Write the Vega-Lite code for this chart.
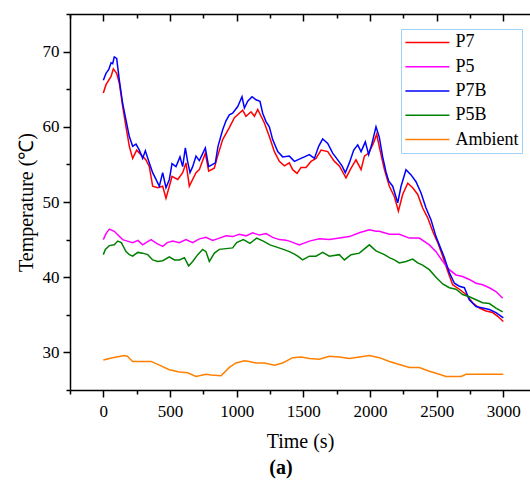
{
  "$schema": "https://vega.github.io/schema/vega-lite/v6.json",
  "autosize": {"type": "none"},
  "width": 460,
  "height": 376,
  "padding": {"left": 70, "top": 14, "right": 0, "bottom": 101},
  "background": "white",
  "config": {
    "view": {"stroke": null},
    "axis": {"domainColor": "black", "domainWidth": 1.5, "tickColor": "black", "tickWidth": 1.5, "grid": false, "labelFont": "Liberation Serif", "labelFontSize": 17, "labelColor": "black", "titleFont": "Liberation Serif", "titleFontSize": 20, "titleFontWeight": "normal", "titleColor": "black"}
  },
  "title": {"text": "(a)", "orient": "bottom", "anchor": "middle", "font": "Liberation Serif", "fontWeight": "bold", "fontSize": 20, "color": "black", "dx": -19, "offset": 7},
  "data": {"values": [
    {"s":"P7","t":0,"T":64.5},{"s":"P7","t":20,"T":65.6},{"s":"P7","t":58,"T":66.7},{"s":"P7","t":75,"T":67.7},{"s":"P7","t":100,"T":67.1},{"s":"P7","t":120,"T":65.8},{"s":"P7","t":145,"T":62.7},{"s":"P7","t":170,"T":60.0},{"s":"P7","t":195,"T":57.4},{"s":"P7","t":220,"T":55.8},{"s":"P7","t":250,"T":56.9},{"s":"P7","t":282,"T":56.3},{"s":"P7","t":320,"T":55.6},{"s":"P7","t":345,"T":54.7},{"s":"P7","t":370,"T":52.1},{"s":"P7","t":408,"T":51.9},{"s":"P7","t":445,"T":52.1},{"s":"P7","t":470,"T":50.5},{"s":"P7","t":495,"T":52.1},{"s":"P7","t":515,"T":53.4},{"s":"P7","t":558,"T":53.0},{"s":"P7","t":595,"T":53.9},{"s":"P7","t":620,"T":55.2},{"s":"P7","t":645,"T":52.1},{"s":"P7","t":670,"T":53.0},{"s":"P7","t":695,"T":53.9},{"s":"P7","t":720,"T":54.3},{"s":"P7","t":765,"T":56.5},{"s":"P7","t":790,"T":54.1},{"s":"P7","t":832,"T":54.5},{"s":"P7","t":857,"T":56.1},{"s":"P7","t":895,"T":58.3},{"s":"P7","t":945,"T":59.9},{"s":"P7","t":983,"T":61.2},{"s":"P7","t":1020,"T":61.8},{"s":"P7","t":1045,"T":62.2},{"s":"P7","t":1070,"T":61.4},{"s":"P7","t":1108,"T":62.0},{"s":"P7","t":1133,"T":61.4},{"s":"P7","t":1158,"T":62.3},{"s":"P7","t":1183,"T":61.4},{"s":"P7","t":1208,"T":60.5},{"s":"P7","t":1245,"T":58.7},{"s":"P7","t":1283,"T":56.7},{"s":"P7","t":1320,"T":55.4},{"s":"P7","t":1358,"T":54.8},{"s":"P7","t":1395,"T":55.2},{"s":"P7","t":1420,"T":54.3},{"s":"P7","t":1453,"T":53.8},{"s":"P7","t":1483,"T":54.6},{"s":"P7","t":1520,"T":54.6},{"s":"P7","t":1558,"T":55.4},{"s":"P7","t":1595,"T":55.8},{"s":"P7","t":1633,"T":56.9},{"s":"P7","t":1683,"T":56.7},{"s":"P7","t":1733,"T":55.4},{"s":"P7","t":1770,"T":54.8},{"s":"P7","t":1820,"T":53.2},{"s":"P7","t":1858,"T":54.5},{"s":"P7","t":1895,"T":55.6},{"s":"P7","t":1933,"T":54.3},{"s":"P7","t":1958,"T":56.1},{"s":"P7","t":1990,"T":56.5},{"s":"P7","t":2025,"T":57.8},{"s":"P7","t":2050,"T":59.0},{"s":"P7","t":2075,"T":56.9},{"s":"P7","t":2108,"T":54.3},{"s":"P7","t":2145,"T":52.1},{"s":"P7","t":2183,"T":50.7},{"s":"P7","t":2213,"T":48.8},{"s":"P7","t":2245,"T":51.0},{"s":"P7","t":2283,"T":52.5},{"s":"P7","t":2320,"T":51.9},{"s":"P7","t":2358,"T":51.0},{"s":"P7","t":2395,"T":49.2},{"s":"P7","t":2433,"T":47.9},{"s":"P7","t":2470,"T":46.1},{"s":"P7","t":2508,"T":44.6},{"s":"P7","t":2545,"T":42.8},{"s":"P7","t":2583,"T":40.8},{"s":"P7","t":2620,"T":39.0},{"s":"P7","t":2670,"T":38.4},{"s":"P7","t":2720,"T":37.7},{"s":"P7","t":2770,"T":36.6},{"s":"P7","t":2820,"T":35.9},{"s":"P7","t":2870,"T":35.5},{"s":"P7","t":2920,"T":35.3},{"s":"P7","t":2958,"T":34.8},{"s":"P7","t":3000,"T":34.1},
    {"s":"P5","t":0,"T":45.0},{"s":"P5","t":20,"T":45.8},{"s":"P5","t":45,"T":46.4},{"s":"P5","t":82,"T":46.1},{"s":"P5","t":110,"T":45.6},{"s":"P5","t":145,"T":45.0},{"s":"P5","t":180,"T":44.8},{"s":"P5","t":220,"T":44.6},{"s":"P5","t":260,"T":44.9},{"s":"P5","t":295,"T":44.3},{"s":"P5","t":330,"T":44.7},{"s":"P5","t":358,"T":45.0},{"s":"P5","t":400,"T":44.5},{"s":"P5","t":445,"T":44.1},{"s":"P5","t":480,"T":44.6},{"s":"P5","t":520,"T":44.8},{"s":"P5","t":570,"T":44.6},{"s":"P5","t":620,"T":45.0},{"s":"P5","t":670,"T":44.6},{"s":"P5","t":720,"T":45.1},{"s":"P5","t":770,"T":45.3},{"s":"P5","t":820,"T":44.9},{"s":"P5","t":870,"T":45.2},{"s":"P5","t":920,"T":45.5},{"s":"P5","t":970,"T":45.4},{"s":"P5","t":1020,"T":45.7},{"s":"P5","t":1070,"T":45.5},{"s":"P5","t":1120,"T":45.9},{"s":"P5","t":1170,"T":45.6},{"s":"P5","t":1220,"T":45.8},{"s":"P5","t":1270,"T":45.3},{"s":"P5","t":1320,"T":45.0},{"s":"P5","t":1370,"T":44.9},{"s":"P5","t":1395,"T":44.8},{"s":"P5","t":1470,"T":44.3},{"s":"P5","t":1545,"T":44.8},{"s":"P5","t":1620,"T":45.1},{"s":"P5","t":1695,"T":45.0},{"s":"P5","t":1770,"T":45.2},{"s":"P5","t":1845,"T":45.4},{"s":"P5","t":1920,"T":45.9},{"s":"P5","t":1995,"T":46.3},{"s":"P5","t":2045,"T":46.1},{"s":"P5","t":2070,"T":46.1},{"s":"P5","t":2145,"T":45.7},{"s":"P5","t":2220,"T":45.7},{"s":"P5","t":2295,"T":45.2},{"s":"P5","t":2370,"T":45.2},{"s":"P5","t":2445,"T":44.3},{"s":"P5","t":2495,"T":43.4},{"s":"P5","t":2545,"T":42.1},{"s":"P5","t":2595,"T":41.0},{"s":"P5","t":2645,"T":40.3},{"s":"P5","t":2695,"T":40.1},{"s":"P5","t":2745,"T":39.7},{"s":"P5","t":2795,"T":39.2},{"s":"P5","t":2845,"T":39.0},{"s":"P5","t":2895,"T":38.6},{"s":"P5","t":2945,"T":38.1},{"s":"P5","t":2995,"T":37.2},
    {"s":"P7B","t":0,"T":66.2},{"s":"P7B","t":20,"T":67.1},{"s":"P7B","t":40,"T":67.6},{"s":"P7B","t":58,"T":68.5},{"s":"P7B","t":70,"T":68.4},{"s":"P7B","t":82,"T":69.3},{"s":"P7B","t":100,"T":69.1},{"s":"P7B","t":120,"T":66.2},{"s":"P7B","t":145,"T":63.1},{"s":"P7B","t":170,"T":60.9},{"s":"P7B","t":195,"T":58.7},{"s":"P7B","t":220,"T":57.4},{"s":"P7B","t":245,"T":57.7},{"s":"P7B","t":270,"T":56.9},{"s":"P7B","t":295,"T":55.8},{"s":"P7B","t":315,"T":56.8},{"s":"P7B","t":345,"T":55.2},{"s":"P7B","t":370,"T":53.9},{"s":"P7B","t":395,"T":53.0},{"s":"P7B","t":420,"T":52.1},{"s":"P7B","t":445,"T":53.9},{"s":"P7B","t":470,"T":51.9},{"s":"P7B","t":495,"T":53.0},{"s":"P7B","t":515,"T":55.1},{"s":"P7B","t":545,"T":54.7},{"s":"P7B","t":575,"T":56.0},{"s":"P7B","t":595,"T":54.7},{"s":"P7B","t":615,"T":57.2},{"s":"P7B","t":632,"T":55.4},{"s":"P7B","t":650,"T":53.9},{"s":"P7B","t":670,"T":54.7},{"s":"P7B","t":695,"T":56.1},{"s":"P7B","t":720,"T":55.5},{"s":"P7B","t":765,"T":57.2},{"s":"P7B","t":790,"T":54.7},{"s":"P7B","t":820,"T":55.0},{"s":"P7B","t":840,"T":55.2},{"s":"P7B","t":860,"T":57.4},{"s":"P7B","t":895,"T":59.6},{"s":"P7B","t":920,"T":60.8},{"s":"P7B","t":945,"T":61.6},{"s":"P7B","t":970,"T":61.8},{"s":"P7B","t":1008,"T":62.7},{"s":"P7B","t":1040,"T":64.0},{"s":"P7B","t":1058,"T":62.5},{"s":"P7B","t":1083,"T":63.4},{"s":"P7B","t":1115,"T":64.0},{"s":"P7B","t":1145,"T":63.6},{"s":"P7B","t":1175,"T":63.4},{"s":"P7B","t":1195,"T":61.8},{"s":"P7B","t":1220,"T":60.7},{"s":"P7B","t":1245,"T":60.0},{"s":"P7B","t":1270,"T":58.3},{"s":"P7B","t":1308,"T":56.7},{"s":"P7B","t":1345,"T":56.0},{"s":"P7B","t":1395,"T":56.1},{"s":"P7B","t":1433,"T":55.4},{"s":"P7B","t":1470,"T":55.7},{"s":"P7B","t":1508,"T":56.0},{"s":"P7B","t":1545,"T":56.3},{"s":"P7B","t":1583,"T":55.8},{"s":"P7B","t":1615,"T":57.4},{"s":"P7B","t":1645,"T":58.4},{"s":"P7B","t":1683,"T":57.8},{"s":"P7B","t":1720,"T":56.5},{"s":"P7B","t":1758,"T":55.6},{"s":"P7B","t":1790,"T":54.8},{"s":"P7B","t":1815,"T":53.9},{"s":"P7B","t":1845,"T":55.2},{"s":"P7B","t":1878,"T":56.9},{"s":"P7B","t":1908,"T":57.6},{"s":"P7B","t":1933,"T":56.7},{"s":"P7B","t":1965,"T":58.0},{"s":"P7B","t":1990,"T":56.3},{"s":"P7B","t":2015,"T":57.8},{"s":"P7B","t":2045,"T":60.0},{"s":"P7B","t":2070,"T":58.6},{"s":"P7B","t":2095,"T":56.0},{"s":"P7B","t":2120,"T":54.0},{"s":"P7B","t":2140,"T":52.8},{"s":"P7B","t":2170,"T":52.1},{"s":"P7B","t":2208,"T":49.9},{"s":"P7B","t":2233,"T":52.1},{"s":"P7B","t":2270,"T":54.3},{"s":"P7B","t":2308,"T":53.6},{"s":"P7B","t":2345,"T":52.7},{"s":"P7B","t":2383,"T":51.2},{"s":"P7B","t":2420,"T":49.2},{"s":"P7B","t":2458,"T":47.6},{"s":"P7B","t":2495,"T":45.4},{"s":"P7B","t":2533,"T":43.7},{"s":"P7B","t":2558,"T":42.6},{"s":"P7B","t":2595,"T":40.6},{"s":"P7B","t":2633,"T":39.2},{"s":"P7B","t":2670,"T":38.8},{"s":"P7B","t":2708,"T":38.6},{"s":"P7B","t":2745,"T":37.0},{"s":"P7B","t":2795,"T":36.1},{"s":"P7B","t":2845,"T":35.9},{"s":"P7B","t":2895,"T":35.7},{"s":"P7B","t":2945,"T":35.3},{"s":"P7B","t":3000,"T":34.6},
    {"s":"P5B","t":0,"T":43.0},{"s":"P5B","t":15,"T":43.7},{"s":"P5B","t":45,"T":44.2},{"s":"P5B","t":82,"T":44.3},{"s":"P5B","t":108,"T":44.8},{"s":"P5B","t":135,"T":44.6},{"s":"P5B","t":170,"T":43.4},{"s":"P5B","t":195,"T":43.0},{"s":"P5B","t":220,"T":42.8},{"s":"P5B","t":258,"T":43.3},{"s":"P5B","t":295,"T":43.2},{"s":"P5B","t":333,"T":43.0},{"s":"P5B","t":370,"T":42.3},{"s":"P5B","t":408,"T":42.1},{"s":"P5B","t":445,"T":42.2},{"s":"P5B","t":495,"T":42.7},{"s":"P5B","t":533,"T":42.3},{"s":"P5B","t":570,"T":42.3},{"s":"P5B","t":608,"T":42.6},{"s":"P5B","t":640,"T":41.5},{"s":"P5B","t":670,"T":42.1},{"s":"P5B","t":708,"T":43.0},{"s":"P5B","t":745,"T":43.7},{"s":"P5B","t":770,"T":43.4},{"s":"P5B","t":795,"T":42.1},{"s":"P5B","t":833,"T":43.2},{"s":"P5B","t":870,"T":43.7},{"s":"P5B","t":920,"T":43.8},{"s":"P5B","t":970,"T":43.9},{"s":"P5B","t":1000,"T":44.6},{"s":"P5B","t":1050,"T":45.0},{"s":"P5B","t":1100,"T":44.5},{"s":"P5B","t":1150,"T":45.2},{"s":"P5B","t":1200,"T":44.8},{"s":"P5B","t":1250,"T":44.3},{"s":"P5B","t":1300,"T":44.0},{"s":"P5B","t":1350,"T":43.7},{"s":"P5B","t":1395,"T":43.4},{"s":"P5B","t":1430,"T":43.1},{"s":"P5B","t":1458,"T":42.8},{"s":"P5B","t":1495,"T":42.3},{"s":"P5B","t":1545,"T":42.8},{"s":"P5B","t":1595,"T":42.8},{"s":"P5B","t":1645,"T":43.3},{"s":"P5B","t":1695,"T":42.8},{"s":"P5B","t":1770,"T":43.0},{"s":"P5B","t":1808,"T":42.3},{"s":"P5B","t":1858,"T":43.0},{"s":"P5B","t":1920,"T":43.2},{"s":"P5B","t":1995,"T":44.3},{"s":"P5B","t":2045,"T":43.5},{"s":"P5B","t":2070,"T":43.3},{"s":"P5B","t":2108,"T":43.0},{"s":"P5B","t":2145,"T":42.6},{"s":"P5B","t":2183,"T":42.3},{"s":"P5B","t":2220,"T":41.9},{"s":"P5B","t":2270,"T":42.1},{"s":"P5B","t":2320,"T":42.4},{"s":"P5B","t":2358,"T":41.9},{"s":"P5B","t":2395,"T":41.6},{"s":"P5B","t":2445,"T":41.0},{"s":"P5B","t":2495,"T":40.0},{"s":"P5B","t":2545,"T":39.1},{"s":"P5B","t":2595,"T":38.6},{"s":"P5B","t":2645,"T":38.4},{"s":"P5B","t":2695,"T":37.7},{"s":"P5B","t":2745,"T":37.4},{"s":"P5B","t":2795,"T":37.0},{"s":"P5B","t":2845,"T":36.6},{"s":"P5B","t":2895,"T":36.5},{"s":"P5B","t":2945,"T":35.9},{"s":"P5B","t":2995,"T":35.4},
    {"s":"Ambient","t":0,"T":29.0},{"s":"Ambient","t":70,"T":29.3},{"s":"Ambient","t":158,"T":29.6},{"s":"Ambient","t":180,"T":29.5},{"s":"Ambient","t":220,"T":28.8},{"s":"Ambient","t":358,"T":28.8},{"s":"Ambient","t":420,"T":28.3},{"s":"Ambient","t":495,"T":27.7},{"s":"Ambient","t":570,"T":27.4},{"s":"Ambient","t":632,"T":27.3},{"s":"Ambient","t":695,"T":26.8},{"s":"Ambient","t":770,"T":27.1},{"s":"Ambient","t":808,"T":27.0},{"s":"Ambient","t":883,"T":26.9},{"s":"Ambient","t":945,"T":28.0},{"s":"Ambient","t":995,"T":28.6},{"s":"Ambient","t":1058,"T":28.9},{"s":"Ambient","t":1095,"T":28.8},{"s":"Ambient","t":1145,"T":28.6},{"s":"Ambient","t":1208,"T":28.6},{"s":"Ambient","t":1283,"T":28.3},{"s":"Ambient","t":1345,"T":28.6},{"s":"Ambient","t":1420,"T":29.3},{"s":"Ambient","t":1483,"T":29.4},{"s":"Ambient","t":1545,"T":29.2},{"s":"Ambient","t":1620,"T":29.1},{"s":"Ambient","t":1695,"T":29.5},{"s":"Ambient","t":1770,"T":29.4},{"s":"Ambient","t":1845,"T":29.2},{"s":"Ambient","t":1920,"T":29.4},{"s":"Ambient","t":1995,"T":29.6},{"s":"Ambient","t":2070,"T":29.3},{"s":"Ambient","t":2145,"T":28.8},{"s":"Ambient","t":2220,"T":28.4},{"s":"Ambient","t":2295,"T":28.0},{"s":"Ambient","t":2370,"T":28.0},{"s":"Ambient","t":2445,"T":27.5},{"s":"Ambient","t":2520,"T":27.1},{"s":"Ambient","t":2570,"T":26.8},{"s":"Ambient","t":2683,"T":26.8},{"s":"Ambient","t":2720,"T":27.1},{"s":"Ambient","t":3000,"T":27.1}
  ]},
  "layer": [
    {
      "mark": {"type": "line", "strokeWidth": 1.5},
      "encoding": {
        "x": {"field": "t", "type": "quantitative", "scale": {"domain": [-250, 3200], "nice": false, "zero": false},
          "axis": {"orient": "bottom", "title": "Time (s)", "values": [-250,0,250,500,750,1000,1250,1500,1750,2000,2250,2500,2750,3000], "format": "d",
            "labelExpr": "datum.value >= 0 && datum.value % 500 === 0 ? datum.label : ''",
            "tickSize": {"condition": {"test": "datum.value % 500 === 0", "value": 7}, "value": 4},
            "labelPadding": 6, "labelFlush": false, "labelOverlap": false, "titlePadding": 12}},
        "y": {"field": "T", "type": "quantitative", "scale": {"domain": [25, 75], "nice": false, "zero": false},
          "axis": {"title": "Temperature (℃)", "values": [25,30,35,40,45,50,55,60,65,70,75],
            "labelExpr": "datum.value % 10 === 0 && datum.value < 75 ? datum.label : ''",
            "tickSize": {"condition": {"test": "datum.value % 10 === 0", "value": 7}, "value": 4},
            "labelPadding": 4, "labelOverlap": false, "labelFlush": false, "titlePadding": 6}},
        "color": {"field": "s", "type": "nominal",
          "scale": {"domain": ["P7", "P5", "P7B", "P5B", "Ambient"], "range": ["#FF0000", "#FF00FF", "#0000FF", "#008000", "#FF8000"]},
          "legend": {"orient": "none", "legendX": 331, "legendY": 15, "title": null, "symbolType": "stroke", "symbolSize": 1936, "symbolStrokeWidth": 1.5, "clipHeight": 20, "rowPadding": 4.3, "padding": 3.4, "strokeColor": "#9dd3f5", "fillColor": "white", "labelFont": "Liberation Serif", "labelFontSize": 18, "labelColor": "black", "labelOffset": 5}}
      }
    },
    {
      "mark": {"type": "line", "opacity": 0},
      "encoding": {
        "x": {"field": "t", "type": "quantitative",
          "axis": {"orient": "top", "title": null, "labels": false, "values": [-250,0,250,500,750,1000,1250,1500,1750,2000,2250,2500,2750,3000],
            "tickSize": {"condition": {"test": "datum.value % 500 === 0", "value": -7}, "value": -4}}},
        "y": {"field": "T", "type": "quantitative", "axis": null}
      }
    }
  ],
  "resolve": {"axis": {"x": "independent", "y": "independent"}}
}
